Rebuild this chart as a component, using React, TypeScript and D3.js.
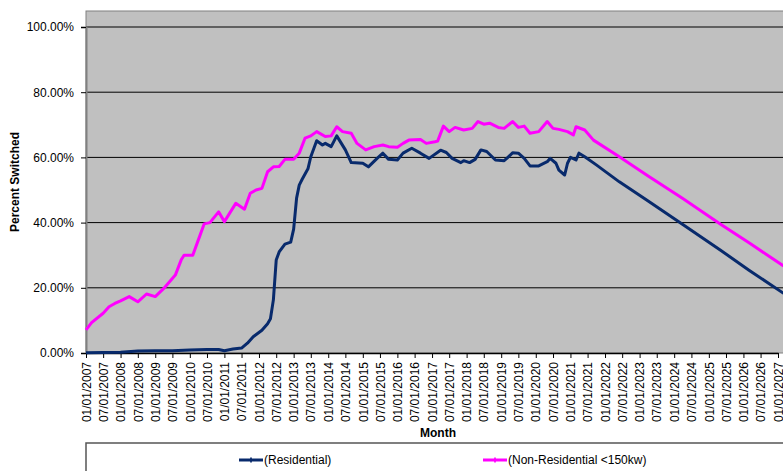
import React, { useRef, useEffect } from 'react'
import * as d3 from 'd3'

// monthly readings, [month, fraction switched]
const residential: [string, number][] = [
  ['2007-01', 0.001], ['2008-01', 0.002], ['2008-07', 0.006], ['2009-01', 0.007],
  ['2009-07', 0.007], ['2010-01', 0.009], ['2010-07', 0.011], ['2010-11', 0.011],
  ['2011-01', 0.007], ['2011-04', 0.012], ['2011-07', 0.015], ['2011-09', 0.03],
  ['2011-11', 0.05], ['2012-02', 0.07], ['2012-04', 0.09], ['2012-05', 0.105],
  ['2012-06', 0.163], ['2012-07', 0.285], ['2012-08', 0.31], ['2012-10', 0.334],
  ['2012-12', 0.34], ['2013-01', 0.38], ['2013-02', 0.475], ['2013-03', 0.515],
  ['2013-04', 0.533], ['2013-06', 0.565], ['2013-07', 0.602], ['2013-09', 0.651],
  ['2013-11', 0.638], ['2013-12', 0.643], ['2014-02', 0.633], ['2014-04', 0.666],
  ['2014-07', 0.623], ['2014-09', 0.584], ['2015-01', 0.582], ['2015-03', 0.571],
  ['2015-06', 0.597], ['2015-08', 0.613], ['2015-10', 0.594], ['2016-01', 0.592],
  ['2016-03', 0.613], ['2016-06', 0.628], ['2016-09', 0.613], ['2016-12', 0.597],
  ['2017-04', 0.622], ['2017-06', 0.615], ['2017-08', 0.597], ['2017-11', 0.584],
  ['2017-12', 0.59], ['2018-02', 0.584], ['2018-04', 0.594], ['2018-06', 0.623],
  ['2018-08', 0.618], ['2018-11', 0.592], ['2019-02', 0.59], ['2019-03', 0.597],
  ['2019-05', 0.614], ['2019-07', 0.613], ['2019-09', 0.597], ['2019-11', 0.574],
  ['2020-02', 0.574], ['2020-05', 0.587], ['2020-06', 0.597], ['2020-08', 0.582],
  ['2020-09', 0.561], ['2020-11', 0.546], ['2020-12', 0.582], ['2021-01', 0.6],
  ['2021-03', 0.592], ['2021-04', 0.613], ['2021-06', 0.602], ['2021-10', 0.577],
  ['2022-06', 0.525], ['2023-04', 0.466], ['2024-04', 0.394], ['2025-05', 0.316],
  ['2026-03', 0.254], ['2027-03', 0.183],
]

const nonResidential: [string, number][] = [
  ['2007-01', 0.071], ['2007-03', 0.093], ['2007-07', 0.122], ['2007-09', 0.142],
  ['2007-11', 0.152], ['2008-01', 0.16], ['2008-04', 0.173], ['2008-07', 0.157],
  ['2008-10', 0.181], ['2009-01', 0.173], ['2009-04', 0.198], ['2009-08', 0.239],
  ['2009-10', 0.285], ['2009-11', 0.3], ['2010-02', 0.3], ['2010-04', 0.347],
  ['2010-06', 0.396], ['2010-08', 0.4], ['2010-11', 0.433], ['2011-01', 0.403],
  ['2011-05', 0.459], ['2011-08', 0.441], ['2011-10', 0.49], ['2011-12', 0.5],
  ['2012-02', 0.505], ['2012-04', 0.556], ['2012-06', 0.571], ['2012-08', 0.572],
  ['2012-10', 0.594], ['2013-01', 0.594], ['2013-03', 0.613], ['2013-05', 0.659],
  ['2013-07', 0.666], ['2013-09', 0.679], ['2013-12', 0.664], ['2014-02', 0.666],
  ['2014-04', 0.694], ['2014-06', 0.679], ['2014-09', 0.674], ['2014-11', 0.643],
  ['2015-02', 0.623], ['2015-05', 0.633], ['2015-08', 0.638], ['2015-10', 0.633],
  ['2016-01', 0.631], ['2016-03', 0.643], ['2016-05', 0.653], ['2016-09', 0.655],
  ['2016-11', 0.643], ['2017-02', 0.648], ['2017-03', 0.65], ['2017-05', 0.696],
  ['2017-07', 0.679], ['2017-09', 0.692], ['2017-12', 0.684], ['2018-03', 0.689],
  ['2018-05', 0.71], ['2018-07', 0.702], ['2018-09', 0.705], ['2018-12', 0.692],
  ['2019-02', 0.689], ['2019-05', 0.71], ['2019-07', 0.692], ['2019-09', 0.696],
  ['2019-11', 0.674], ['2020-02', 0.679], ['2020-05', 0.71], ['2020-07', 0.689],
  ['2020-09', 0.686], ['2020-12', 0.679], ['2021-02', 0.669], ['2021-03', 0.694],
  ['2021-06', 0.684], ['2021-09', 0.653], ['2022-06', 0.602], ['2023-04', 0.543],
  ['2024-04', 0.474], ['2025-05', 0.396], ['2026-03', 0.338], ['2027-03', 0.267],
]

const seriesNames = ['(Residential)', '(Non-Residential <150kw)']
const seriesColors = ['#082a6c', '#ff00ff']
const yTicks = [0, 0.2, 0.4, 0.6, 0.8, 1]
const xStart = new Date(2007, 0, 1)
const xEnd = new Date(2027, 0, 1)

const W = 783
const H = 471
const margin = { top: 11, left: 86, bottom: 353, axisTop: 27, right: 778 }
const font = '"Liberation Sans", Arial, sans-serif'

export default function App() {
  const svgRef = useRef<SVGSVGElement>(null)

  useEffect(() => {
    if (!svgRef.current) return
    const svg = d3.select(svgRef.current)
    svg.selectAll('*').remove()

    const parse = d3.timeParse('%Y-%m')
    const x = d3.scaleTime().domain([xStart, xEnd]).range([margin.left, margin.right])
    const y = d3.scaleLinear().domain([0, 1]).range([margin.bottom, margin.axisTop])

    // plot area
    svg.append('rect')
      .attr('x', margin.left)
      .attr('y', margin.top)
      .attr('width', W + 20 - margin.left)
      .attr('height', margin.bottom - margin.top)
      .style('fill', '#c0c0c0')
      .style('stroke', '#808080')
      .style('stroke-width', 1)

    // grid
    svg.append('g')
      .selectAll('line')
      .data(yTicks.filter(t => t > 0))
      .enter()
      .append('line')
      .attr('x1', margin.left)
      .attr('x2', W + 20)
      .attr('y1', d => y(d))
      .attr('y2', d => y(d))
      .style('stroke', '#000')
      .style('stroke-width', 1)

    // y axis
    const yAxis = svg.append('g')
      .attr('transform', `translate(${margin.left},0)`)
      .call(d3.axisLeft(y).tickValues(yTicks).tickFormat(d3.format('.2%')).tickSize(5).tickPadding(7))
    yAxis.select('.domain').style('stroke', '#808080').style('stroke-width', 2)
    yAxis.selectAll('.tick line').style('stroke', '#000')
    yAxis.selectAll('text')
      .style('font-family', font)
      .style('font-size', '12px')
      .style('fill', '#000')

    // x axis
    const xAxis = svg.append('g')
      .attr('transform', `translate(0,${margin.bottom})`)
      .call(d3.axisBottom(x).ticks(d3.timeMonth.every(6)).tickFormat(d3.timeFormat('%m/%d/%Y') as any).tickSize(5).tickSizeOuter(0))
    xAxis.select('.domain').style('stroke', '#000').style('stroke-width', 1.5)
    xAxis.selectAll('.tick line').style('stroke', '#000')
    xAxis.selectAll('text')
      .attr('transform', 'rotate(-90)')
      .attr('text-anchor', 'end')
      .attr('x', -9)
      .attr('y', 0)
      .attr('dy', '0.35em')
      .style('font-family', font)
      .style('font-size', '12px')
      .style('fill', '#000')

    // lines
    const line = d3.line<[string, number]>()
      .x(d => x(parse(d[0])!))
      .y(d => y(d[1]))

    ;[residential, nonResidential].forEach((series, i) => {
      svg.append('path')
        .datum(series)
        .attr('d', line)
        .style('fill', 'none')
        .style('stroke', seriesColors[i])
        .style('stroke-width', 3)
        .style('stroke-linejoin', 'round')
    })

    // axis titles
    svg.append('text')
      .attr('transform', `translate(19,${(margin.top + margin.bottom) / 2}) rotate(-90)`)
      .attr('text-anchor', 'middle')
      .style('font-family', font)
      .style('font-size', '12px')
      .style('font-weight', 'bold')
      .text('Percent Switched')

    svg.append('text')
      .attr('x', 438)
      .attr('y', 437)
      .attr('text-anchor', 'middle')
      .style('font-family', font)
      .style('font-size', '12px')
      .style('font-weight', 'bold')
      .text('Month')

    // legend
    svg.append('rect')
      .attr('x', margin.left)
      .attr('y', 443)
      .attr('width', W)
      .attr('height', 60)
      .style('fill', '#fff')
      .style('stroke', '#555')
      .style('stroke-width', 1.5)

    const legendX = [239, 483]
    seriesNames.forEach((name, i) => {
      const g = svg.append('g').attr('transform', `translate(${legendX[i]},460)`)
      g.append('line')
        .attr('x1', 0).attr('x2', 24)
        .style('stroke', seriesColors[i])
        .style('stroke-width', 3)
      g.append('path')
        .attr('d', d3.symbol(d3.symbolCross, 14) as any)
        .attr('transform', 'translate(12,0)')
        .style('fill', seriesColors[i])
      g.append('text')
        .attr('x', 25)
        .attr('dy', '0.35em')
        .style('font-family', font)
        .style('font-size', '12px')
        .text(name)
    })
  }, [])

  return (
    <svg
      ref={svgRef}
      width={W}
      height={H}
      style={{ position: 'absolute', left: 0, top: 0, background: '#fff' }}
    />
  )
}
